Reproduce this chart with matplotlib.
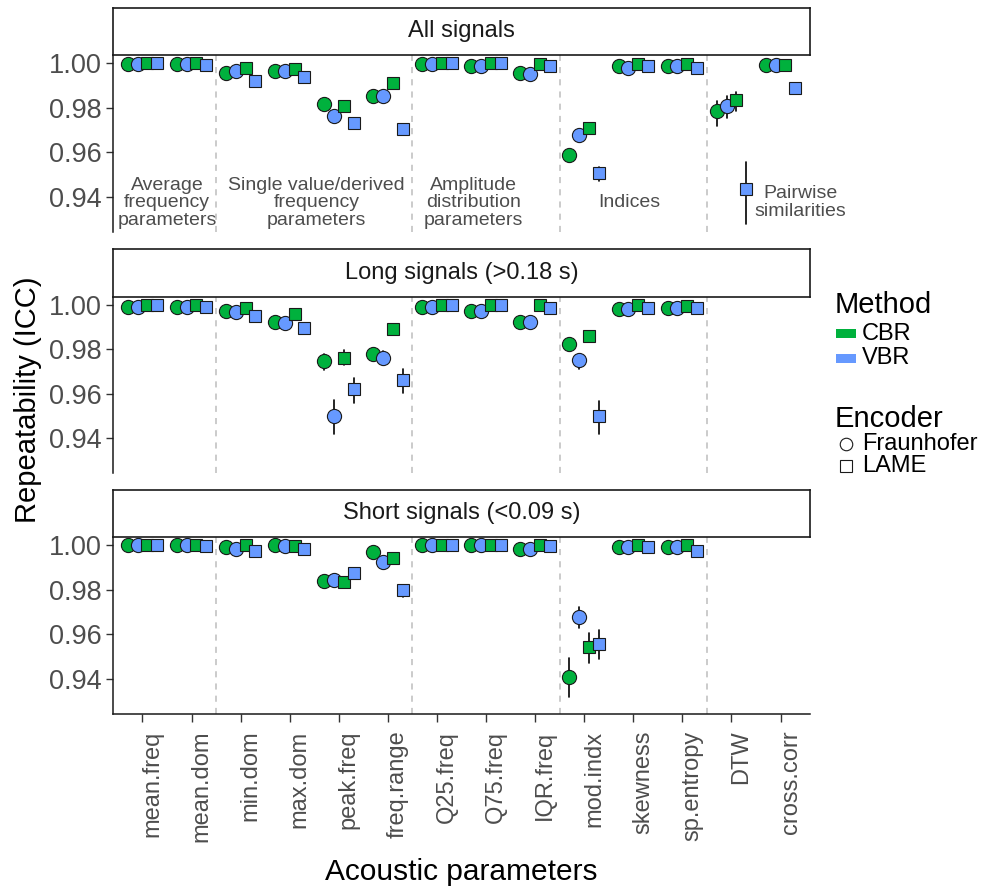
import numpy as np
import matplotlib
matplotlib.use("Agg")
import matplotlib.pyplot as plt
from matplotlib.patches import Rectangle
from matplotlib.lines import Line2D
import matplotlib.transforms as mtransforms

plt.rcParams['font.family'] = ['Liberation Sans', 'DejaVu Sans']

# ---------------- data ----------------
params = ["mean.freq", "mean.dom", "min.dom", "max.dom", "peak.freq", "freq.range",
          "Q25.freq", "Q75.freq", "IQR.freq", "mod.indx", "skewness", "sp.entropy",
          "DTW", "cross.corr"]
panel_titles = ["All signals", "Long signals (>0.18 s)", "Short signals (<0.09 s)"]
series_names = ["CBR-Fraunhofer", "VBR-Fraunhofer", "CBR-LAME", "VBR-LAME"]
nan = np.nan

all_cbr_fraun = [0.9995, 0.9995, 0.9956, 0.9966, 0.9817, 0.9854, 0.9996, 0.9986, 0.9956, 0.9589, 0.9986, 0.9989, 0.9784, 0.9993]
all_vbr_fraun = [0.9995, 0.9995, 0.9963, 0.9963, 0.9761, 0.9851, 0.9996, 0.9986, 0.9953, 0.9679, 0.9980, 0.9989, 0.9809, 0.9993]
all_cbr_lame = [1.0000, 1.0000, 0.9978, 0.9975, 0.9806, 0.9911, 1.0000, 0.9999, 0.9995, 0.9709, 0.9995, 0.9995, 0.9836, 0.9993]
all_vbr_lame = [1.0000, 0.9993, 0.9921, 0.9936, 0.9731, 0.9706, 1.0000, 0.9999, 0.9989, 0.9507, 0.9986, 0.9980, 0.9435, 0.9889]

long_cbr_fraun = [0.9990, 0.9990, 0.9971, 0.9922, 0.9747, 0.9780, 0.9990, 0.9971, 0.9922, 0.9822, 0.9979, 0.9983, nan, nan]
long_vbr_fraun = [0.9990, 0.9990, 0.9966, 0.9916, 0.9501, 0.9759, 0.9990, 0.9971, 0.9922, 0.9750, 0.9979, 0.9983, nan, nan]
long_cbr_lame = [1.0000, 1.0000, 0.9986, 0.9956, 0.9762, 0.9889, 1.0000, 0.9998, 0.9998, 0.9859, 0.9998, 0.9995, nan, nan]
long_vbr_lame = [1.0000, 0.9989, 0.9948, 0.9893, 0.9620, 0.9660, 1.0000, 0.9998, 0.9986, 0.9501, 0.9986, 0.9983, nan, nan]

short_cbr_fraun = [0.9998, 0.9998, 0.9992, 0.9998, 0.9838, 0.9970, 0.9998, 0.9998, 0.9981, 0.9411, 0.9993, 0.9993, nan, nan]
short_vbr_fraun = [0.9998, 0.9998, 0.9984, 0.9995, 0.9842, 0.9925, 0.9998, 0.9998, 0.9981, 0.9677, 0.9993, 0.9993, nan, nan]
short_cbr_lame = [1.0000, 1.0000, 0.9999, 0.9995, 0.9835, 0.9940, 1.0000, 1.0000, 1.0000, 0.9542, 0.9998, 0.9998, nan, nan]
short_vbr_lame = [1.0000, 0.9995, 0.9972, 0.9981, 0.9875, 0.9800, 1.0000, 1.0000, 0.9994, 0.9557, 0.9992, 0.9975, nan, nan]

# visible confidence intervals: (panel, parameter, series, lower, upper)
intervals = [
    (0, "DTW", "CBR-Fraunhofer", 0.9719, 0.9829),
    (0, "DTW", "VBR-Fraunhofer", 0.9754, 0.9851),
    (0, "DTW", "CBR-LAME", 0.9787, 0.9871),
    (0, "DTW", "VBR-LAME", 0.9279, 0.9556),
    (0, "mod.indx", "VBR-LAME", 0.9470, 0.9535),
    (0, "cross.corr", "VBR-LAME", 0.9862, 0.9905),
    (1, "peak.freq", "CBR-Fraunhofer", 0.9707, 0.9780),
    (1, "peak.freq", "VBR-Fraunhofer", 0.9421, 0.9572),
    (1, "peak.freq", "CBR-LAME", 0.9728, 0.9795),
    (1, "peak.freq", "VBR-LAME", 0.9560, 0.9672),
    (1, "freq.range", "CBR-Fraunhofer", 0.9760, 0.9805),
    (1, "freq.range", "VBR-Fraunhofer", 0.9730, 0.9790),
    (1, "freq.range", "VBR-LAME", 0.9605, 0.9709),
    (1, "mod.indx", "VBR-Fraunhofer", 0.9712, 0.9780),
    (1, "mod.indx", "VBR-LAME", 0.9420, 0.9568),
    (2, "mod.indx", "CBR-Fraunhofer", 0.9318, 0.9493),
    (2, "mod.indx", "VBR-Fraunhofer", 0.9628, 0.9722),
    (2, "mod.indx", "CBR-LAME", 0.9470, 0.9607),
    (2, "mod.indx", "VBR-LAME", 0.9488, 0.9622),
    (2, "freq.range", "VBR-LAME", 0.9768, 0.9815),
]

group_labels = ["Average\nfrequency\nparameters", "Single value/derived\nfrequency\nparameters",
                "Amplitude\ndistribution\nparameters", "Indices", "Pairwise\nsimilarities"]
group_label_x = [1.5, 4.55, 7.74, 10.91, 14.41]
group_bounds = [2.5, 6.5, 9.5, 12.5]

panels = [
    [all_cbr_fraun, all_vbr_fraun, all_cbr_lame, all_vbr_lame],
    [long_cbr_fraun, long_vbr_fraun, long_cbr_lame, long_vbr_lame],
    [short_cbr_fraun, short_vbr_fraun, short_cbr_lame, short_vbr_lame],
]

# ---------------- style ----------------
GREEN = "#00B13D"
BLUE = "#6699FF"
colors = [GREEN, BLUE, GREEN, BLUE]
markers = ["o", "o", "s", "s"]
msizes = [10.2, 10.2, 8.6, 8.6]
offsets = [-0.3, -0.1, 0.1, 0.3]
GREY_TXT = "#4d4d4d"

W, H = 989, 890
fig = plt.figure(figsize=(W / 100, H / 100), dpi=100)


def rect(l, t, r, b):
    return [l / W, 1 - b / H, (r - l) / W, (b - t) / H]


L, R = 113, 810
panel_px = [(55, 232), (296.5, 473), (537, 714)]
strip_px = [(7.5, 55), (249, 296.5), (490, 537)]

x = np.arange(1, len(params) + 1)

for p in range(3):
    t, b = panel_px[p]
    ax = fig.add_axes(rect(L, t, R, b))
    ax.set_xlim(0.4, len(params) + 0.6)
    ax.set_ylim(0.9244, 1.0036)
    for xb in group_bounds:
        ax.axvline(xb, color="#bdbdbd", linestyle=(0, (4, 4)), linewidth=1.1, zorder=0)
    # error bars
    for (pi, par, ser, lo, hi) in intervals:
        if pi != p:
            continue
        k = series_names.index(ser)
        xi = params.index(par) + 1 + offsets[k]
        ax.plot([xi, xi], [lo, hi], color="black", linewidth=1.2, solid_capstyle="round", zorder=2)
    for k in range(4):
        vals = np.array(panels[p][k], dtype=float)
        ax.plot(x + offsets[k], vals, linestyle="none", marker=markers[k], ms=msizes[k],
                markerfacecolor=colors[k], markeredgecolor="#1a1a1a", markeredgewidth=0.8,
                zorder=3 + k, clip_on=False)
    ax.set_yticks([0.94, 0.96, 0.98, 1.00])
    ax.set_yticklabels(["0.94", "0.96", "0.98", "1.00"])
    ax.tick_params(axis="y", length=5, width=1.0, color="#333333", labelsize=19.5,
                   labelcolor=GREY_TXT, pad=3)
    for s in ["top", "right"]:
        ax.spines[s].set_visible(False)
    ax.spines["left"].set_linewidth(1.1)
    ax.spines["left"].set_color("#1a1a1a")
    ax.set_xticks(x)
    if p < 2:
        ax.spines["bottom"].set_visible(False)
        ax.tick_params(axis="x", length=0, labelbottom=False)
    else:
        ax.spines["bottom"].set_linewidth(1.1)
        ax.spines["bottom"].set_color("#1a1a1a")
        ax.set_xticklabels(params, rotation=90)
        ax.tick_params(axis="x", length=6, width=1.0, color="#333333", labelsize=17,
                       labelcolor=GREY_TXT, pad=6)
        off = mtransforms.ScaledTranslation(10 / 100, 0, fig.dpi_scale_trans)
        for lab in ax.get_xticklabels():
            lab.set_transform(lab.get_transform() + off)
    ax.patch.set_alpha(0)
    if p == 0:
        for lbl, gx in zip(group_labels, group_label_x):
            ax.text(gx, 0.9375, lbl, ha="center", va="center", fontsize=14,
                    color=GREY_TXT, linespacing=1.05, clip_on=False, zorder=1)
    # strip
    st, sb = strip_px[p]
    sax = fig.add_axes(rect(L, st, R, sb))
    sax.set_xticks([])
    sax.set_yticks([])
    for s in sax.spines.values():
        s.set_linewidth(1.2)
        s.set_color("#1a1a1a")
    sax.text(0.5, 0.5, panel_titles[p], ha="center", va="center", fontsize=17,
             color="#1a1a1a", transform=sax.transAxes)

# axis titles
fig.text(461.5 / W, 1 - 872 / H, "Acoustic parameters", ha="center", va="center", fontsize=21.5)
fig.text(28 / W, 1 - 400 / H, "Repeatability (ICC)", ha="center", va="center",
         rotation=90, fontsize=21)

# legend (manual)
def fx(px):
    return px / W


def fy(py):
    return 1 - py / H


fig.text(fx(835), fy(313), "Method", ha="left", va="baseline", fontsize=21)
for label, col, yc in [("CBR", GREEN, 333.5), ("VBR", BLUE, 358.5)]:
    fig.patches.append(Rectangle((fx(836), fy(yc + 4.5)), 20 / W, 9 / H, facecolor=col,
                                 edgecolor="none", transform=fig.transFigure, figure=fig))
    fig.text(fx(862), fy(yc), label, ha="left", va="center", fontsize=17)

fig.text(fx(835), fy(427), "Encoder", ha="left", va="baseline", fontsize=21)
for label, mk, ms, yc in [("Fraunhofer", "o", 9.0, 443.5), ("LAME", "s", 8.0, 466)]:
    fig.lines.append(Line2D([fx(845.5)], [fy(yc)], marker=mk, ms=ms, markerfacecolor="white",
                            markeredgecolor="#1a1a1a", markeredgewidth=0.8, linestyle="none",
                            transform=fig.transFigure, figure=fig))
    fig.text(fx(862), fy(yc), label, ha="left", va="center", fontsize=17)

fig.savefig("out.png", dpi=100)
